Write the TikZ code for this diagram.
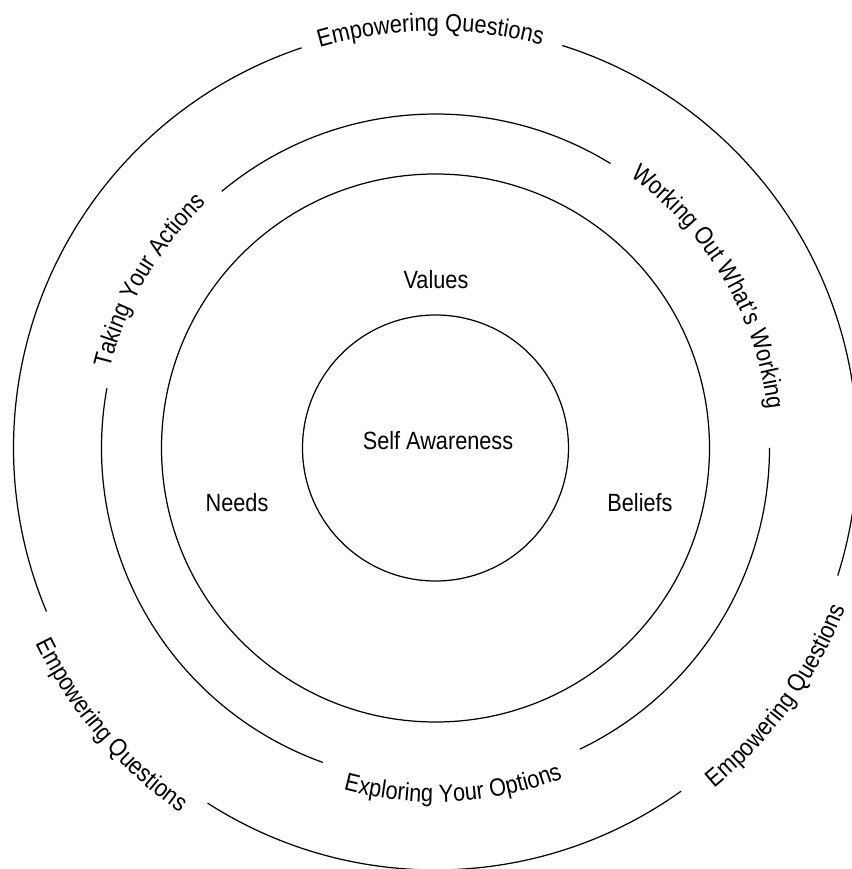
\documentclass[tikz,border=0pt]{standalone}
\usepackage{fontspec}
\setmainfont{Liberation Sans}[FakeStretch=0.87]
\usetikzlibrary{decorations.text}
\newcommand{\ringfont}{\fontsize{14.2}{17}\selectfont}

\begin{document}
\begin{tikzpicture}[ring/.style={line width=0.7pt},
  word/.style={font=\ringfont},
  arclabel/.style={decorate,decoration={text along path,text align=center,text={|\ringfont|#1}}}]
  \useasboundingbox (-8.71,-8.42) rectangle (8.31,8.96);

  \draw[ring] (0,0) circle[radius=2.66];
  \draw[ring] (0,0) circle[radius=5.48];

  \draw[ring] (-64.4:6.68) arc[start angle=-64.4,end angle=0,radius=6.68];
  \draw[ring] (58.4:6.68) arc[start angle=58.4,end angle=129.8,radius=6.68];
  \draw[ring] (169.7:6.68) arc[start angle=169.7,end angle=250.3,radius=6.68];

  \draw[ring] (108.5:8.44) arc[start angle=108.5,end angle=202.8,radius=8.44];
  \draw[ring] (237.3:8.44) arc[start angle=237.3,end angle=305.6,radius=8.44];
  \draw[ring] (-17.6:8.44) arc[start angle=-17.6,end angle=72.5,radius=8.44];

  \node[word] (self) at (0.05,0.14) {Self Awareness};
  \node[word] (values) at (0.01,3.36) {Values};
  \node[word] (needs) at (-3.97,-1.10) {Needs};
  \node[word] (beliefs) at (4.09,-1.10) {Beliefs};

  \path[arclabel={Empowering Questions}] (125.7:8.34) arc[start angle=125.7,end angle=55.7,radius=8.34];
  \path[arclabel={Taking Your Actions}] (184.7:6.70) arc[start angle=184.7,end angle=114.7,radius=6.70];
  \path[arclabel={Working Out What’s Working}] (65.5:6.68) arc[start angle=65.5,end angle=-4.5,radius=6.68];
  \path[arclabel={Exploring Your Options}] (238:7.08) arc[start angle=238,end angle=308,radius=7.08];
  \path[arclabel={Empowering Questions}] (289:8.80) arc[start angle=289,end angle=359,radius=8.80];
  \path[arclabel={Empowering Questions}] (185.5:8.90) arc[start angle=185.5,end angle=255.5,radius=8.90];
\end{tikzpicture}
\end{document}
